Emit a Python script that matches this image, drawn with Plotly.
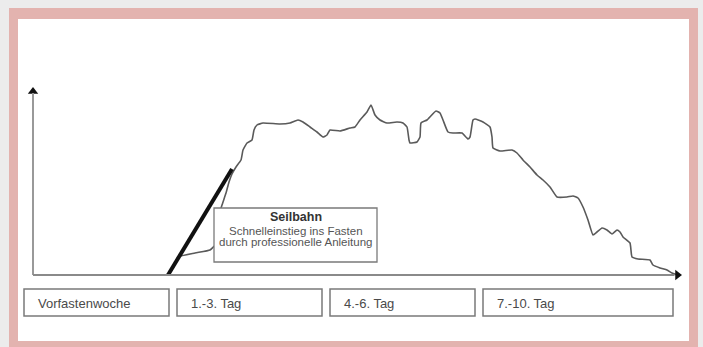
import plotly.graph_objects as go

# ---- data (abstract units: x = time, y = level) ----
curve_x = [27.2, 28.2, 29.0, 32.4, 35.4, 36.4, 36.8, 37.2, 37.8, 38.6, 39.2, 39.8, 40.6, 41.6, 42.0,
           42.8, 43.8, 44.2, 44.8, 46.0, 49.4, 51.4, 53.0, 54.0, 55.4, 56.8, 58.0, 58.8, 59.4, 61.4,
           63.4, 64.4, 65.4, 66.8, 67.6, 68.4, 69.4, 70.8, 72.8, 74.0, 74.8, 75.2, 75.4, 76.8, 77.4,
           77.6, 78.8, 80.6, 81.4, 82.0, 83.0, 84.0, 85.8, 87.0, 87.4, 88.0, 88.4, 90.0, 91.4, 91.8,
           92.0, 93.4, 95.8, 96.8, 98.0, 99.4, 100.8, 102.0, 103.4, 104.8, 106.8, 108.0, 109.0, 110.0,
           111.0, 112.0, 112.8, 113.8, 114.8, 115.8, 116.8, 117.4, 118.0, 119.4, 119.8, 121.0, 123.4,
           124.0, 125.4, 126.8, 127.8, 129.0]
curve_y = [0, 4.5, 9, 11, 12.5, 15, 22.5, 30, 35, 41, 46.5, 50.5, 54, 57.5, 62.5,
           66, 67.5, 72.5, 75, 76, 75.5, 76, 77.5, 76.5, 74, 71.5, 69, 70, 72.5, 72,
           73.5, 74, 77.5, 81.5, 85, 80, 77.5, 76, 76.5, 76, 74, 67.5, 66, 66.5, 69,
           76, 77.5, 82, 81, 77.5, 71.5, 71, 71, 68, 69, 77.5, 78, 76.5, 74, 69,
           63.5, 62, 62.5, 61, 57.5, 54, 50, 47.5, 44, 39, 39, 39.5, 38.5, 34,
           27.5, 20, 21.5, 23.5, 22.5, 20.5, 22.5, 21.5, 19, 16, 9, 8, 7.5,
           5, 3.5, 2.5, 1, 0]

seilbahn_x = [27.0, 39.8]
seilbahn_y = [0, 53]

phase_labels = ["Vorfastenwoche", "1.-3. Tag", "4.-6. Tag", "7.-10. Tag"]
phase_start = [-1.8, 28.8, 59.4, 90.0]
phase_end = [27.2, 57.8, 88.4, 128.0]

seil_title = "Seilbahn"
seil_lines = ["Schnelleinstieg ins Fasten", "durch professionelle Anleitung"]

X_AXIS_END = 129.8
Y_AXIS_END = 94

# ---- layout constants ----
W, H = 703, 347
X_RANGE = [-6.6, 134.0]
Y_RANGE = [-36.0, 137.5]

fig = go.Figure()

def px2paper(x, y):
    return x / W, 1 - y / H

shapes = []
x0, y0 = px2paper(9, 8); x1, y1 = px2paper(698, 347)
shapes.append(dict(type="rect", xref="paper", yref="paper", x0=x0, y0=y1, x1=x1, y1=y0,
                   fillcolor="#e3b3af", line=dict(width=0), layer="below"))
x0, y0 = px2paper(18, 19); x1, y1 = px2paper(689, 341)
shapes.append(dict(type="rect", xref="paper", yref="paper", x0=x0, y0=y1, x1=x1, y1=y0,
                   fillcolor="#ffffff", line=dict(width=0), layer="below"))

# axes lines
shapes.append(dict(type="line", x0=0, y0=0, x1=0, y1=Y_AXIS_END - 3, line=dict(color="#999999", width=2)))
shapes.append(dict(type="line", x0=0, y0=0, x1=X_AXIS_END - 1.5, y1=0, line=dict(color="#8a8a8a", width=1.8)))

# phase boxes
for s, e in zip(phase_start, phase_end):
    shapes.append(dict(type="rect", x0=s, x1=e, y0=-7, y1=-20.5,
                       line=dict(color="#7a7a7a", width=1.5), fillcolor="rgba(0,0,0,0)"))

# Seilbahn box
shapes.append(dict(type="rect", x0=36.2, x1=68.8, y0=6.5, y1=33.5,
                   line=dict(color="#7a7a7a", width=1.3), fillcolor="#ffffff"))

fig.update_layout(shapes=shapes)

fig.add_trace(go.Scatter(x=curve_x, y=curve_y, mode="lines",
                         line=dict(color="#5a5a5a", width=1.6, shape="spline", smoothing=0.4),
                         hoverinfo="skip"))
fig.add_trace(go.Scatter(x=seilbahn_x, y=seilbahn_y, mode="lines",
                         line=dict(color="#111111", width=4), hoverinfo="skip"))
fig.add_trace(go.Scatter(x=[0], y=[Y_AXIS_END - 2.2], mode="markers",
                         marker=dict(symbol="triangle-up", size=9, color="#111111"), hoverinfo="skip"))
fig.add_trace(go.Scatter(x=[X_AXIS_END - 0.9], y=[0], mode="markers",
                         marker=dict(symbol="triangle-right", size=9, color="#111111"), hoverinfo="skip"))

ann = []
for lab, s in zip(phase_labels, phase_start):
    ann.append(dict(x=s + 2.4, y=-14, text=lab, showarrow=False, xanchor="left", yanchor="middle",
                    font=dict(family="Liberation Sans, Arial", size=13, color="#4a4a4a")))
cx = 52.5
ann.append(dict(x=cx, y=29, text="<b>%s</b>" % seil_title, showarrow=False, xanchor="center", yanchor="middle",
                font=dict(family="Liberation Sans, Arial", size=12.5, color="#333333")))
for t, yy in zip(seil_lines, [22, 16.3]):
    ann.append(dict(x=cx, y=yy, text=t, showarrow=False, xanchor="center", yanchor="middle",
                    font=dict(family="Liberation Sans, Arial", size=11.5, color="#555555")))
fig.update_layout(annotations=ann)

fig.update_layout(
    width=W, height=H, margin=dict(l=0, r=0, t=0, b=0),
    paper_bgcolor="#ececec", plot_bgcolor="rgba(0,0,0,0)",
    showlegend=False,
    xaxis=dict(range=X_RANGE, visible=False, fixedrange=True),
    yaxis=dict(range=Y_RANGE, visible=False, fixedrange=True),
)

fig.write_html("out.html", config={"displayModeBar": False},
               post_script="document.body.style.margin='0';document.body.style.overflow='hidden';")
